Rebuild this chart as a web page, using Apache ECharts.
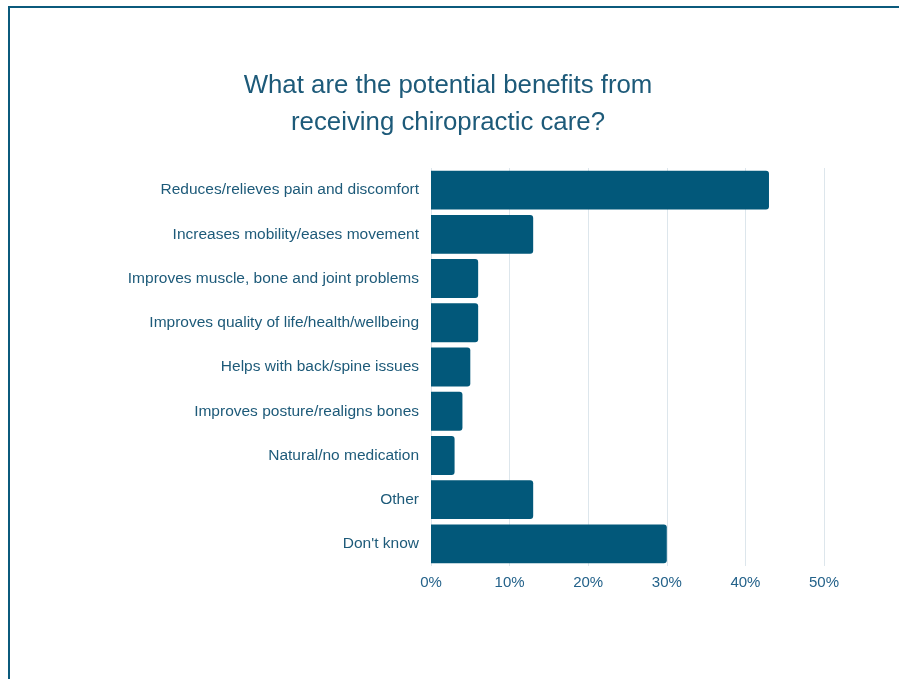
<!DOCTYPE html>
<html>
<head>
<meta charset="utf-8">
<script src="https://cdn.jsdelivr.net/npm/echarts@6/dist/echarts.min.js"></script>
<style>
  html, body { margin: 0; padding: 0; background: #fff; }
  #frame {
    position: absolute; left: 8px; top: 6px; width: 1000px; height: 800px;
    border-left: 2px solid #0b5a7c; border-top: 2px solid #0b5a7c;
  }
  #chart { position: absolute; left: 0; top: 0; width: 899px; height: 679px; }
</style>
</head>
<body>
<div id="frame"></div>
<div id="chart"></div>
<script>
// Survey answers, top to bottom
const categories = [
  'Reduces/relieves pain and discomfort',
  'Increases mobility/eases movement',
  'Improves muscle, bone and joint problems',
  'Improves quality of life/health/wellbeing',
  'Helps with back/spine issues',
  'Improves posture/realigns bones',
  'Natural/no medication',
  'Other',
  "Don't know"
];
// Share of respondents (%)
const shares = [43, 13, 6, 6, 5, 4, 3, 13, 30];
const titleLines = ['What are the potential benefits from', 'receiving chiropractic care?'];

const textColor = '#1d5a79';
const chart = echarts.init(document.getElementById('chart'), null, { renderer: 'canvas' });
chart.setOption({
  backgroundColor: 'transparent',
  animation: false,
  title: {
    text: titleLines.join('\n'),
    left: 443, top: 62, textAlign: 'center',
    textStyle: {
      color: textColor, fontFamily: 'Liberation Sans', fontWeight: 'normal',
      fontSize: 25.8, lineHeight: 37
    }
  },
  grid: { left: 431, right: 75, top: 168, bottom: 113, containLabel: false },
  xAxis: {
    type: 'value', min: 0, max: 50, interval: 10,
    axisLine: { show: false }, axisTick: { show: false },
    axisLabel: {
      formatter: '{value}%', color: '#24628a', fontFamily: 'Liberation Sans',
      fontSize: 15, margin: 9
    },
    splitLine: { lineStyle: { color: '#dde6ec', width: 1 } }
  },
  yAxis: {
    type: 'category', data: categories, inverse: true,
    axisLine: { show: false }, axisTick: { show: false },
    axisLabel: { color: textColor, fontFamily: 'Liberation Sans', fontSize: 15.5, margin: 12 }
  },
  series: [{
    type: 'bar', data: shares, barCategoryGap: '12%',
    itemStyle: { color: '#02587a', borderRadius: [0, 3, 3, 0] }
  }]
});
</script>
</body>
</html>
